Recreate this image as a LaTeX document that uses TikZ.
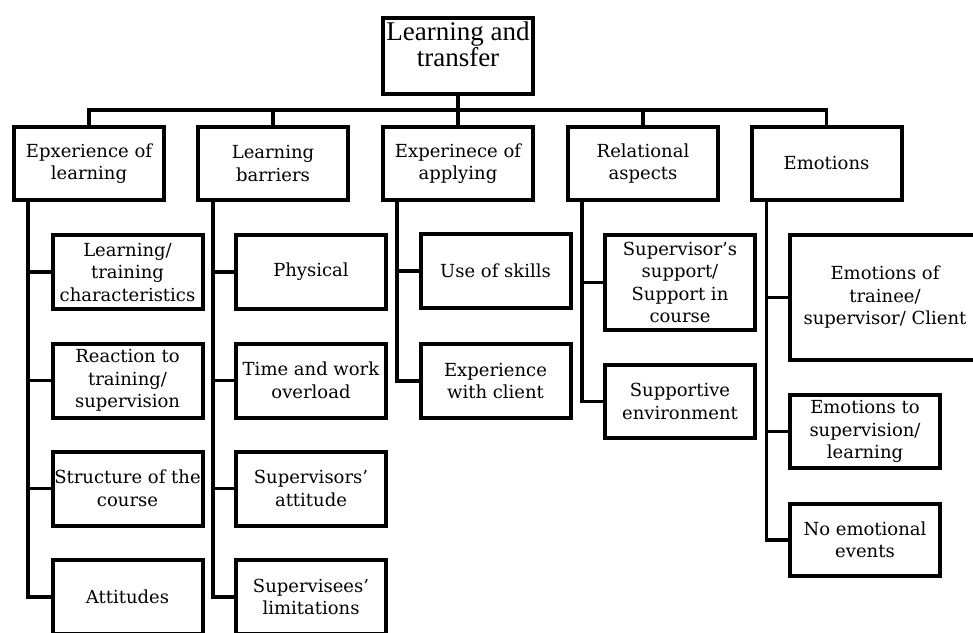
\documentclass[tikz,border=0pt]{standalone}
\usepackage{fontspec}
\setmainfont{DejaVu Serif}
\newfontfamily\rootfont{Liberation Serif}

\tikzset{
  box/.style={draw, line width=4pt, align=center, inner sep=1pt,
    minimum width=150pt, minimum height=74pt,
    font=\fontsize{18}{22.5}\selectfont},
  link/.style={line width=3.5pt}
}

\begin{document}
\begin{tikzpicture}[x=1pt,y=-1pt]
\useasboundingbox (0,0) rectangle (973,632);
\clip (0,0) rectangle (973,632);

\node[box, minimum height=76pt, font=\rootfont\fontsize{27}{20}\selectfont] (root) at (458,56) {Learning and\\transfer\\[4pt]};

\node[box, minimum height=73pt] (exp) at (89,163.5) {Epxerience of\\learning};
\node[box, minimum height=73pt] (bar) at (273,163.5) {Learning\\barriers};
\node[box, minimum height=73pt] (app) at (458,163.5) {Experinece of\\applying};
\node[box, minimum height=73pt] (rel) at (643,163.5) {Relational\\aspects};
\node[box, minimum height=73pt] (emo) at (826.5,163.5) {Emotions};

\node[box] (exa) at (127.5,272) {Learning/\\training\\characteristics};
\node[box] (exb) at (127.5,380.5) {Reaction to\\training/\\supervision};
\node[box] (exc) at (127.5,488.5) {Structure of the\\course};
\node[box] (exd) at (127.5,597) {Attitudes};

\node[box] (bara) at (311,272) {Physical};
\node[box] (barb) at (311,380.5) {Time and work\\overload};
\node[box] (barc) at (311,488.5) {Supervisors'\\attitude};
\node[box] (bard) at (311,597) {Supervisees'\\limitations};

\node[box] (appa) at (495.5,271) {Use of skills};
\node[box] (appb) at (495.5,381) {Experience\\with client};

\node[box, minimum height=95pt] (rela) at (680,282.5) {Supervisor's\\support/\\Support in\\course};
\node[box, minimum height=73pt] (relb) at (680,401.5) {Supportive\\environment};

\node[box, minimum width=190pt, minimum height=125pt] (emoa) at (885,297.5) {Emotions of\\trainee/\\supervisor/ Client};
\node[box, minimum height=73pt] (emob) at (865,431.5) {Emotions to\\supervision/\\learning};
\node[box, minimum height=72pt] (emoc) at (865,540) {No emotional\\events};

\foreach \n in {exp,bar,app,rel,emo}
  \draw[link] (root.south) -- ++(0,14) -| (\n.north);

\foreach \c in {exa,exb,exc,exd}
  \draw[link] ([xshift=16pt]exp.south west) |- (\c.west);
\foreach \c in {bara,barb,barc,bard}
  \draw[link] ([xshift=17pt]bar.south west) |- (\c.west);
\foreach \c in {appa,appb}
  \draw[link] ([xshift=16pt]app.south west) |- (\c.west);
\foreach \c in {rela,relb}
  \draw[link] ([xshift=16pt]rel.south west) |- (\c.west);
\foreach \c in {emoa,emob,emoc}
  \draw[link] ([xshift=17pt]emo.south west) |- (\c.west);
\end{tikzpicture}
\end{document}
